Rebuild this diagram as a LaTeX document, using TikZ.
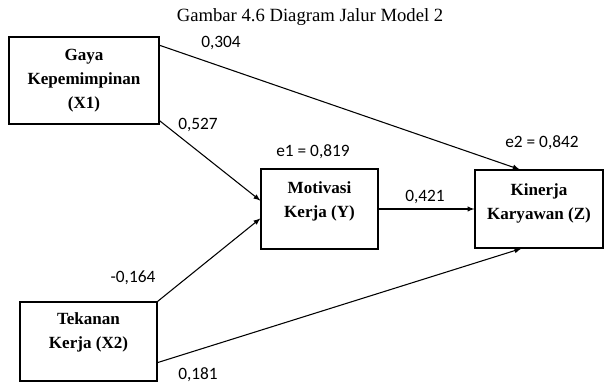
\documentclass[tikz,border=0pt]{standalone}
\usepackage{fontspec}
\setmainfont{Liberation Serif}
\newfontfamily\coeffont{Carlito}

\begin{document}
\begin{tikzpicture}[x=0.75pt,y=-0.75pt,->,>=latex,line width=0.8pt]
    \tikzstyle{construct}=[rectangle,draw,align=center,inner sep=2pt,
                          font=\fontsize{12.8}{18}\selectfont\bfseries]
    \tikzstyle{coef}=[inner sep=1pt,font=\fontsize{13}{15}\selectfont\coeffont]
    \tikzstyle{caption}=[inner sep=1pt,font=\fontsize{14}{16}\selectfont]

    \useasboundingbox (0,0) rectangle (604,384);

    % Draw the title
    \node[caption] (title) at (310,17) {Gambar 4.6 Diagram Jalur Model 2};

    % Draw the two independent variables
    \node[construct,minimum width=112.5pt,minimum height=65.25pt]
        (X1) at (84,80.5) {Gaya\\Kepemimpinan\\(X1)};
    \node[construct,minimum width=102.75pt,minimum height=59.25pt,text depth=16pt]
        (X2) at (88.5,341.5) {Tekanan\\Kerja (X2)};

    % Draw the mediator and the dependent variable
    \node[construct,minimum width=87.75pt,minimum height=60pt,text depth=14pt]
        (Y) at (319.5,209) {Motivasi\\Kerja (Y)};
    \node[construct,minimum width=96pt,minimum height=58.5pt,text depth=11pt]
        (Z) at (539,209) {Kinerja\\Karyawan (Z)};

    % Paths into Y
    \path (X1.332) edge (Y.172);
    \path (X2.north east) edge (Y.189);

    % Paths into Z
    \path (X1.25) edge (Z.116);
    \path (Y.east) edge (Z.west);
    \path (X2.343) edge (Z.246);

    % Path coefficients and residuals
    \node[coef] (p1z) at (221,43) {0,304};
    \node[coef] (p1y) at (198,125) {0,527};
    \node[coef] (p2y) at (133,278) {-0,164};
    \node[coef] (p2z) at (198,375) {0,181};
    \node[coef] (pyz) at (425,197) {0,421};
    \node[coef] (e1) at (313,152) {e1 = 0,819};
    \node[coef] (e2) at (542,143) {e2 = 0,842};
\end{tikzpicture}
\end{document}
